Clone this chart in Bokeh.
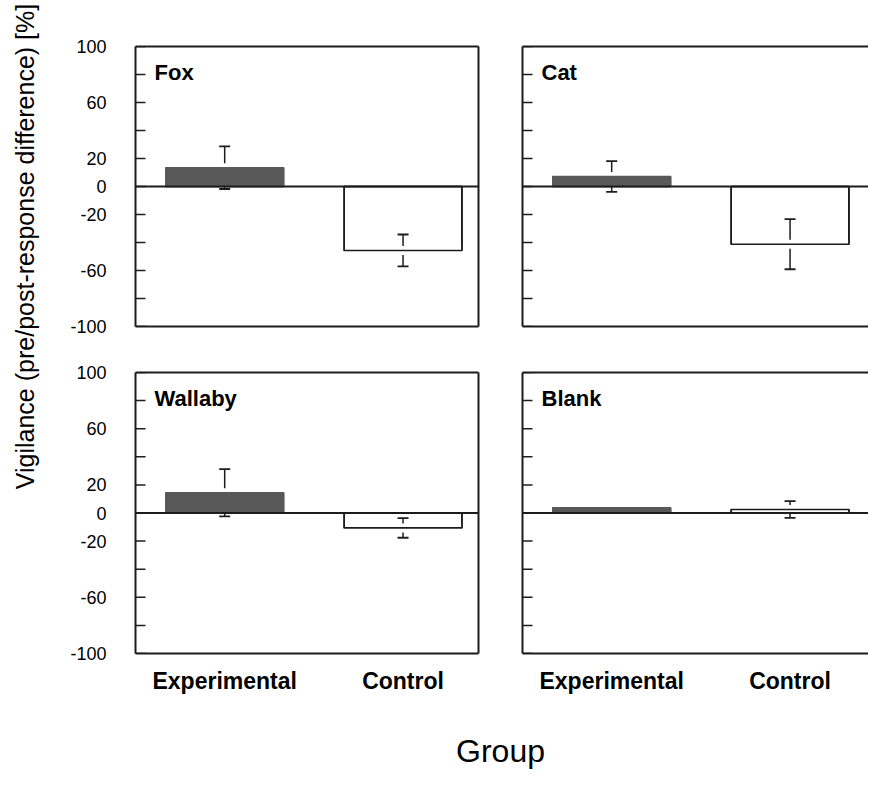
import numpy as np
from bokeh.plotting import figure
from bokeh.models import Range1d, LinearAxis, FixedTicker, Span, Label, ColumnDataSource
from bokeh.layouts import row, column
from bokeh.embed import file_html
from bokeh.resources import INLINE

# ---------------- data ----------------
groups = ["Experimental", "Control"]
group_pos = [1, 2]
panel_names = ["Fox", "Cat", "Wallaby", "Blank"]

fox_mean = [13.4, -45.7]
fox_se = [15.2, 11.4]
cat_mean = [7.1, -41.2]
cat_se = [11.0, 17.9]
wallaby_mean = [14.4, -10.6]
wallaby_se = [16.8, 7.0]
blank_mean = [3.7, 2.5]
blank_se = [0.0, 6.0]

y_ticks = [-100, -80, -60, -40, -20, 0, 20, 40, 60, 80, 100]
y_labelled = [100, 60, 20, 0, -20, -60, -100]

y_title = "Vigilance (pre/post-response difference) [%]"
x_title = "Group"

# ---------------- style ----------------
FONT = "Liberation Sans"
EXP_COLOR = "#595959"
LINE = "#1c1c1c"
BAR_W = 0.66
X_START = 0.5
UNITS_PER_PX = 1.923 / 343
TICK_PX = 10


def make_panel(name, means, ses, is_left, is_bottom):
    fw = 343 if is_left else 346
    fh = 281 if is_bottom else 280
    bl = 75 if is_left else 22
    br = 22 if is_left else 0
    bt = 23 if is_bottom else 46
    bb = 57 if is_bottom else 23
    p = figure(width=bl + fw + br, height=bt + fh + bb,
               x_range=Range1d(X_START, X_START + fw * UNITS_PER_PX),
               y_range=Range1d(-100, 100),
               x_axis_type=None, y_axis_type=None,
               min_border_left=bl, min_border_right=br,
               min_border_top=bt, min_border_bottom=bb,
               output_backend="svg", toolbar_location=None,
               outline_line_color=None, background_fill_color="white",
               border_fill_color="white")

    if is_left:
        ya = LinearAxis(ticker=FixedTicker(ticks=y_labelled, minor_ticks=[]),
                        major_tick_in=0, major_tick_out=0,
                        axis_line_width=2, axis_line_color=LINE,
                        major_label_standoff=29,
                        major_label_text_font=FONT,
                        major_label_text_color="black",
                        major_label_text_font_size="18px",
                        major_label_overrides={t: str(t) for t in y_labelled})
    else:
        ya = LinearAxis(ticker=FixedTicker(ticks=[], minor_ticks=[]),
                        major_tick_in=0, major_tick_out=0,
                        axis_line_width=2, axis_line_color=LINE)
    p.add_layout(ya, "left")

    top_ax = LinearAxis(ticker=FixedTicker(ticks=[], minor_ticks=[]), major_tick_in=0,
                        major_tick_out=0, axis_line_width=2, axis_line_color=LINE)
    p.add_layout(top_ax, "above")
    if is_left:
        right_ax = LinearAxis(ticker=FixedTicker(ticks=[], minor_ticks=[]), major_tick_in=0,
                              major_tick_out=0, axis_line_width=2, axis_line_color=LINE)
        p.add_layout(right_ax, "right")
    if is_bottom:
        xa = LinearAxis(ticker=FixedTicker(ticks=group_pos, minor_ticks=[]),
                        major_tick_in=0, major_tick_out=0,
                        axis_line_width=2, axis_line_color=LINE,
                        major_label_standoff=14,
                        major_label_text_font=FONT,
                        major_label_text_font_style="bold",
                        major_label_text_color="black",
                        major_label_text_font_size="23px",
                        major_label_overrides={pos: g for pos, g in zip(group_pos, groups)})
    else:
        xa = LinearAxis(ticker=FixedTicker(ticks=[], minor_ticks=[]), major_tick_in=0,
                        major_tick_out=0, axis_line_width=2, axis_line_color=LINE)
    p.add_layout(xa, "below")

    # inward tick marks on the left edge
    tsrc = ColumnDataSource(dict(y=y_ticks))
    p.segment(x0=X_START, y0="y", x1=X_START + TICK_PX * UNITS_PER_PX, y1="y",
              source=tsrc, line_color=LINE, line_width=1.5)

    bsrc = ColumnDataSource(dict(x=group_pos, top=means,
                                 x0=[x - BAR_W / 2 for x in group_pos],
                                 x1=[x + BAR_W / 2 for x in group_pos],
                                 fill=[EXP_COLOR, "white"],
                                 fill_alpha=[1.0, 0.0],
                                 line=[EXP_COLOR, LINE]))
    # bar fills
    p.vbar(x="x", width=BAR_W, bottom=0, top="top", source=bsrc,
           fill_color="fill", line_color="line", line_width=1.6)

    # error bars
    ex = [x for x, e in zip(group_pos, ses) if e > 0]
    em = [m for m, e in zip(means, ses) if e > 0]
    ee = [e for e in ses if e > 0]
    esrc = ColumnDataSource(dict(x=ex, up=[m + e for m, e in zip(em, ee)],
                                 lo=[m - e for m, e in zip(em, ee)]))
    p.segment(x0="x", y0="lo", x1="x", y1="up", source=esrc, line_color=LINE, line_width=1.5)
    p.scatter(x="x", y="up", source=esrc, marker="dash", size=11, line_color=LINE, line_width=1.8)
    p.scatter(x="x", y="lo", source=esrc, marker="dash", size=11, line_color=LINE, line_width=1.8)

    # white halo along the value edge of each bar, then the bar edges again
    p.segment(x0="x0", y0="top", x1="x1", y1="top", source=bsrc,
              line_color="white", line_width=9, line_cap="butt")
    p.vbar(x="x", width=BAR_W, bottom=0, top="top", source=bsrc,
           fill_color="fill", fill_alpha="fill_alpha", line_color="line", line_width=1.6)

    p.add_layout(Span(location=0, dimension="width", line_color=LINE, line_width=2))

    p.add_layout(Label(x=19, y=fh - 13, x_units="screen", y_units="screen",
                       text=name, text_font=FONT, text_font_style="bold",
                       text_font_size="22px", text_baseline="top", text_color="black"))
    return p


tl = make_panel(panel_names[0], fox_mean, fox_se, True, False)
tr = make_panel(panel_names[1], cat_mean, cat_se, False, False)
bl = make_panel(panel_names[2], wallaby_mean, wallaby_se, True, True)
br = make_panel(panel_names[3], blank_mean, blank_se, False, True)

TOTAL_H = 785

# y title
ylab = figure(width=60, height=TOTAL_H, x_range=Range1d(0, 1), y_range=Range1d(0, 1),
              x_axis_type=None, y_axis_type=None, min_border=0,
              output_backend="svg", toolbar_location=None, outline_line_color=None)
ylab.add_layout(Label(x=24, y=TOTAL_H - 246, x_units="screen", y_units="screen", text=y_title,
                      angle=np.pi / 2, text_align="center", text_baseline="middle",
                      text_font=FONT, text_font_size="25px", text_color="black"))

# x title
xh = TOTAL_H - 349 - 361
xlab = figure(width=808, height=xh, x_range=Range1d(0, 1), y_range=Range1d(0, 1),
              x_axis_type=None, y_axis_type=None, min_border=0,
              output_backend="svg", toolbar_location=None, outline_line_color=None)
xlab.add_layout(Label(x=440, y=TOTAL_H - 750, x_units="screen", y_units="screen", text=x_title,
                      text_align="center", text_baseline="alphabetic",
                      text_font=FONT, text_font_size="32px", text_color="black"))

root = row(ylab, column(row(tl, tr), row(bl, br), xlab))

open("out.html", "w").write(file_html(root, INLINE))
